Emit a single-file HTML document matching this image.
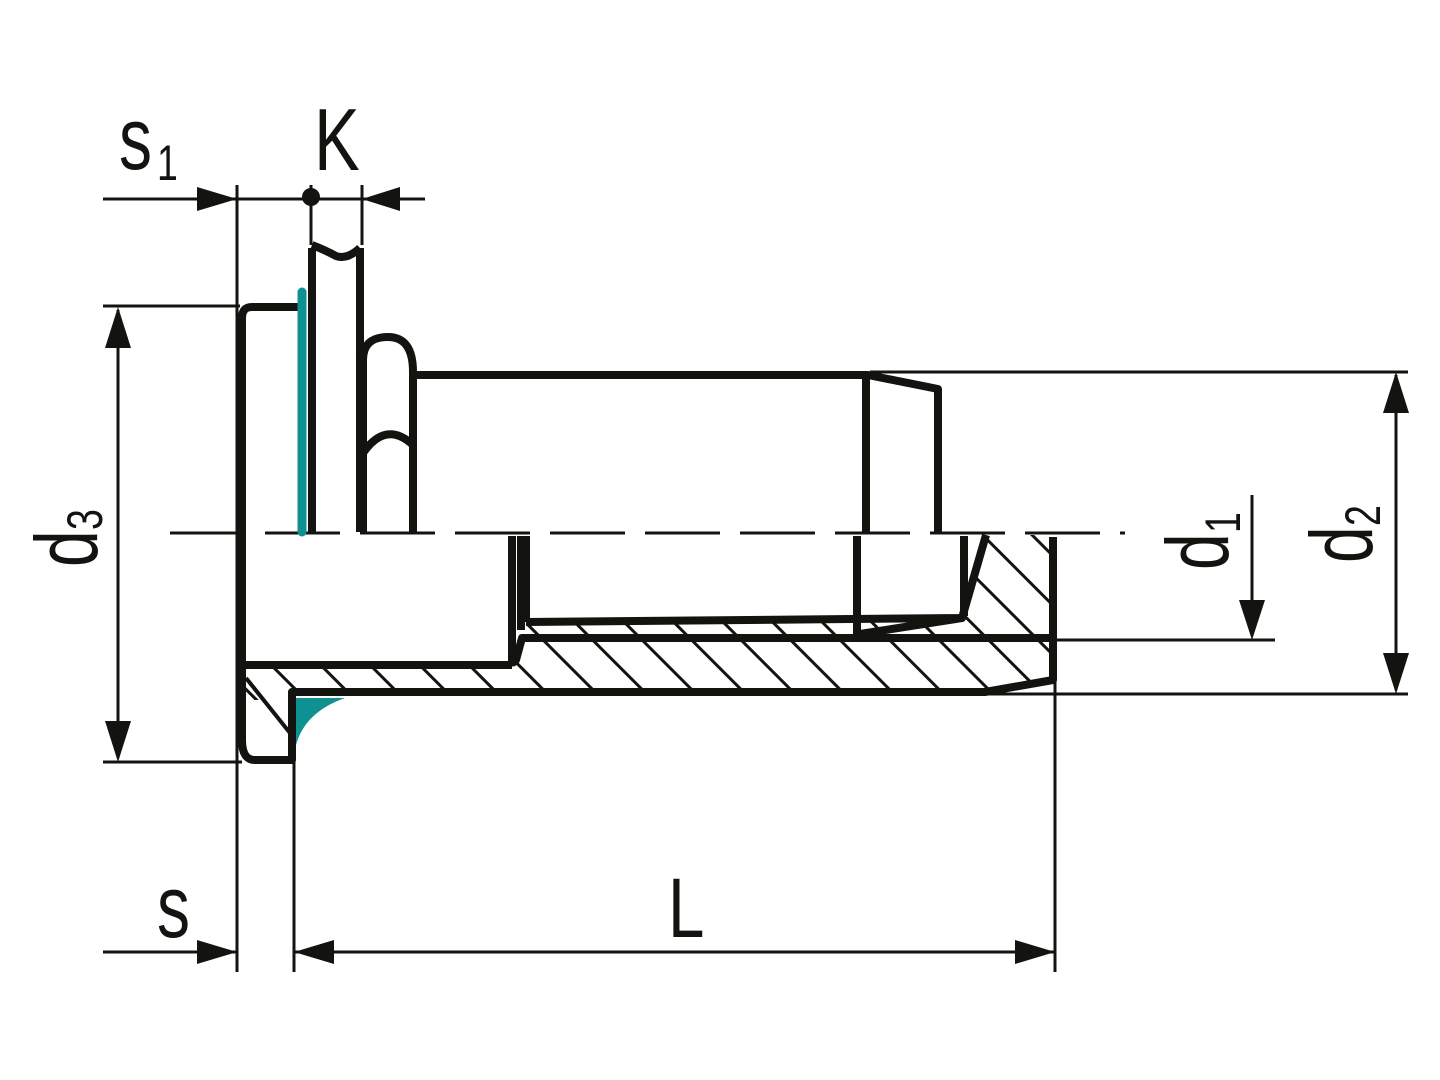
<!DOCTYPE html>
<html><head><meta charset="utf-8"><style>
html,body{margin:0;padding:0;background:#fff;}
svg{display:block;}
text{font-family:"Liberation Sans",sans-serif;fill:#13130f;}
</style></head><body>
<svg width="1440" height="1080" viewBox="0 0 1440 1080" xmlns="http://www.w3.org/2000/svg">
<defs>
<pattern id="h" patternUnits="userSpaceOnUse" width="35" height="35" patternTransform="rotate(-45)">
<line x1="0" y1="0" x2="0" y2="35" stroke="#13130f" stroke-width="6"/>
</pattern>
</defs>
<g stroke="#13130f" fill="none" stroke-linejoin="round">
<polygon points="245,668 514,668 521,642 1050,642 1050,679 985,690 291,690 291,700 245,700" fill="url(#h)" stroke="none"/>
<polygon points="526,624 962,620 986,535 1050,535 1050,637 521,637" fill="url(#h)" stroke="none"/>
<path d="M296,698 L345,698 Q305,712 296,745 Z" fill="#0f9191" stroke="none"/>

<g stroke-width="3">
<line x1="170" y1="533" x2="1125" y2="533" stroke-dasharray="75,20"/>
<line x1="237" y1="185" x2="237" y2="972"/>
<line x1="294" y1="692" x2="294" y2="972"/>
<line x1="1055" y1="540" x2="1055" y2="972"/>
<line x1="311" y1="185" x2="311" y2="245"/>
<line x1="362" y1="185" x2="362" y2="245"/>
<line x1="103" y1="199" x2="425" y2="199"/>
<line x1="103" y1="306" x2="240" y2="306"/>
<line x1="103" y1="762" x2="242" y2="762"/>
<line x1="118" y1="310" x2="118" y2="758"/>
<line x1="870" y1="372" x2="1408" y2="372"/>
<line x1="985" y1="694" x2="1408" y2="694"/>
<line x1="1396" y1="375" x2="1396" y2="690"/>
<line x1="1055" y1="640" x2="1275" y2="640"/>
<line x1="1252" y1="495" x2="1252" y2="636"/>
<line x1="103" y1="952" x2="237" y2="952"/>
<line x1="294" y1="952" x2="1055" y2="952"/>
</g>
<line x1="246" y1="678" x2="290" y2="733" stroke-width="4"/>
<g fill="#13130f" stroke="none">
<polygon points="237,199 197,187 197,211"/>
<polygon points="362,199 400,187 400,211"/>
<circle cx="311" cy="197" r="9"/>
<polygon points="118,307 105,348 131,348"/>
<polygon points="118,762 105,721 131,721"/>
<polygon points="1396,372 1383,413 1409,413"/>
<polygon points="1396,694 1383,653 1409,653"/>
<polygon points="1252,640 1239,600 1265,600"/>
<polygon points="237,952 197,940 197,964"/>
<polygon points="294,952 334,940 334,964"/>
<polygon points="1055,952 1015,940 1015,964"/>
</g>

<g stroke-width="8">
<path d="M300,307 L252,307 Q242,307 242,318 L242,740 Q242,760 255,760 L292,760 L292,692 L985,692 L1053,680 L1053,537"/>
<line x1="242" y1="665" x2="512" y2="665"/>
<path d="M512,536 L512,660 Q512,665 516,660 L522,638 L1053,638"/>
<line x1="521" y1="536" x2="521" y2="630"/>
<path d="M526,622 L962,618 L986,535"/>
<line x1="526" y1="536" x2="526" y2="622"/>
<line x1="857" y1="536" x2="857" y2="636"/>
<line x1="964" y1="536" x2="964" y2="616"/>
<path d="M860,634 L962,618"/>
<line x1="312" y1="248" x2="312" y2="532"/>
<line x1="360" y1="248" x2="360" y2="532"/>
<path d="M312,245 Q325,250 336,256 Q347,260 360,248"/>
<path d="M363,532 L363,360 Q363,337 388,337 Q413,337 413,372 L413,532"/>
<path d="M363,453 Q386,420 413,445"/>
<path d="M413,375 L868,375 L938,389 L938,532"/>
<line x1="866" y1="375" x2="866" y2="532"/>
</g>
<line x1="302" y1="292" x2="302" y2="532" stroke="#0f9191" stroke-width="9" stroke-linecap="round"/>
</g>

<text transform="translate(119,169) scale(0.75,1)" font-size="88">s</text>
<text transform="translate(157,180) scale(0.75,1)" font-size="50">1</text>
<text transform="translate(314,170) scale(0.78,1)" font-size="88">K</text>
<text transform="translate(157,937) scale(0.75,1)" font-size="88">s</text>
<text transform="translate(668,937) scale(0.78,1)" font-size="84">L</text>
<text transform="translate(97,567) rotate(-90) scale(0.75,1)" font-size="88">d</text>
<text transform="translate(102,530) rotate(-90) scale(0.75,1)" font-size="50">3</text>
<text transform="translate(1228,570) rotate(-90) scale(0.75,1)" font-size="88">d</text>
<text transform="translate(1240,533) rotate(-90) scale(0.75,1)" font-size="50">1</text>
<text transform="translate(1372,563) rotate(-90) scale(0.75,1)" font-size="88">d</text>
<text transform="translate(1380,526) rotate(-90) scale(0.75,1)" font-size="50">2</text>
</svg>
</body></html>
